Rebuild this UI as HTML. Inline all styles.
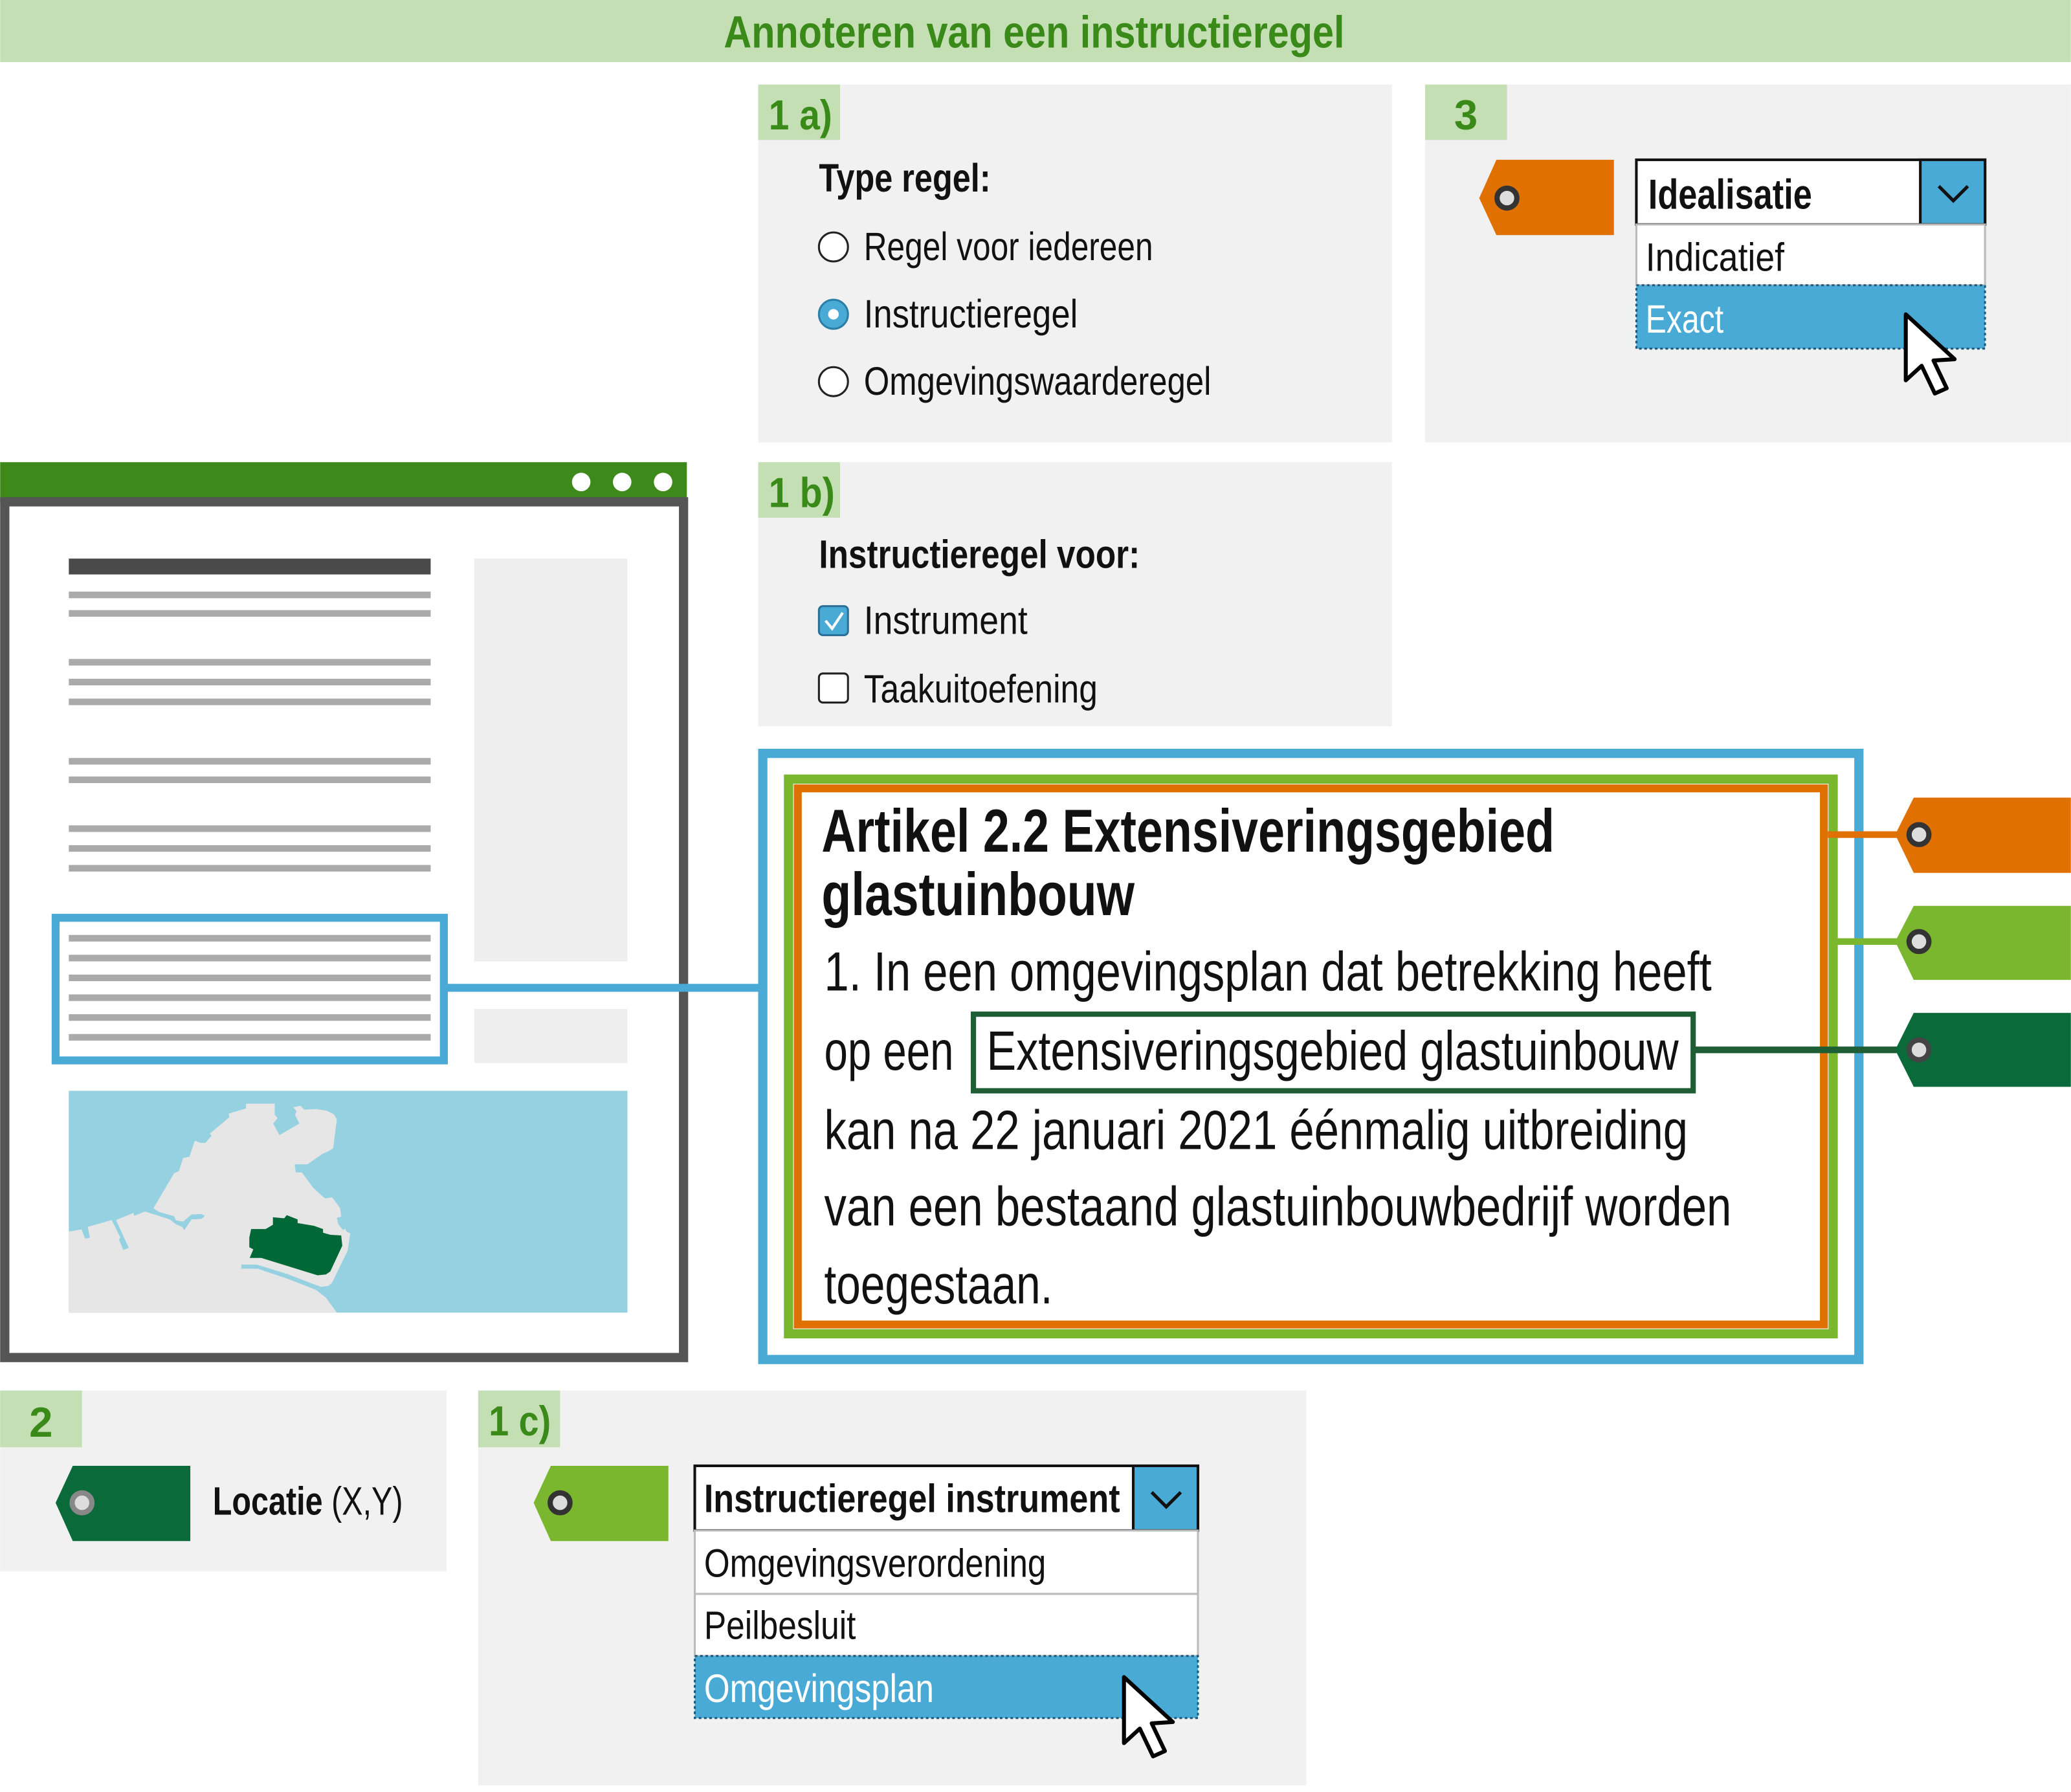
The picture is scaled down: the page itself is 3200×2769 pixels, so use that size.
<!DOCTYPE html>
<html><head><meta charset="utf-8"><style>
html,body{margin:0;padding:0;background:#fff;width:3200px;height:2769px;overflow:hidden}
svg{display:block}
text{font-family:"Liberation Sans",sans-serif}
</style></head><body>
<svg width="3200" height="2769" viewBox="0 0 1568 1357" xmlns="http://www.w3.org/2000/svg">
<defs>
<g id="cur"><path d="M0,0 L0,50 L12,39 L22,60 L31,56 L21,35 L37,34 Z" fill="#fff" stroke="#000" stroke-width="3" stroke-linejoin="round"/></g>
</defs>
<rect x="0" y="0" width="1568" height="47" fill="#c5dfb5"/>
<text x="548" y="36" font-size="34" font-weight="bold" fill="#3a8a1a" textLength="470" lengthAdjust="spacingAndGlyphs">Annoteren van een instructieregel</text>

<!-- 1a -->
<rect x="574" y="64" width="480" height="271" fill="#f1f1f1"/>
<rect x="574" y="64" width="62" height="42" fill="#c5dfb5"/>
<text x="582" y="98" font-size="32" font-weight="bold" fill="#3a8a1a" textLength="48" lengthAdjust="spacingAndGlyphs">1 a)</text>
<text x="620" y="145" font-size="30" font-weight="bold" fill="#111" textLength="130" lengthAdjust="spacingAndGlyphs">Type regel:</text>
<circle cx="631" cy="187" r="11" fill="#fff" stroke="#222" stroke-width="1.5"/>
<text x="654" y="197" font-size="30" fill="#111" textLength="219" lengthAdjust="spacingAndGlyphs">Regel voor iedereen</text>
<circle cx="631" cy="238" r="11" fill="#4aaad6" stroke="#2a7fa8" stroke-width="1.5"/>
<circle cx="631" cy="238" r="4" fill="#fff"/>
<text x="654" y="248" font-size="30" fill="#111" textLength="162" lengthAdjust="spacingAndGlyphs">Instructieregel</text>
<circle cx="631" cy="289" r="11" fill="#fff" stroke="#222" stroke-width="1.5"/>
<text x="654" y="299" font-size="30" fill="#111" textLength="263" lengthAdjust="spacingAndGlyphs">Omgevingswaarderegel</text>

<!-- 3 -->
<rect x="1079" y="64" width="489" height="271" fill="#f1f1f1"/>
<rect x="1079" y="64" width="62" height="42" fill="#c5dfb5"/>
<text x="1101" y="98" font-size="32" font-weight="bold" fill="#3a8a1a">3</text>
<polygon points="1133,121 1222,121 1222,178 1133,178 1120,150" fill="#e07000"/>
<circle cx="1141" cy="150" r="7.5" fill="#ddd" stroke="#333" stroke-width="4"/>
<rect x="1239" y="121" width="264" height="49" fill="#fff" stroke="#111" stroke-width="2"/>
<rect x="1454" y="121" width="49" height="49" fill="#4aaad6" stroke="#111" stroke-width="2"/>
<path d="M1468,141 L1479,152 L1490,141" fill="none" stroke="#111" stroke-width="2.5"/>
<text x="1248" y="158" font-size="32" font-weight="bold" fill="#111" textLength="124" lengthAdjust="spacingAndGlyphs">Idealisatie</text>
<rect x="1239" y="170" width="264" height="46" fill="#fff" stroke="#bbb" stroke-width="1.5"/>
<text x="1246" y="205" font-size="30" fill="#111" textLength="105" lengthAdjust="spacingAndGlyphs">Indicatief</text>
<rect x="1239" y="216" width="264" height="48" fill="#4aaad6" stroke="#1a5a80" stroke-width="1.5" stroke-dasharray="2,2"/>
<text x="1246" y="252" font-size="30" fill="#fff" textLength="59" lengthAdjust="spacingAndGlyphs">Exact</text>
<use href="#cur" x="1443" y="238"/>

<!-- Browser -->
<rect x="0" y="350" width="520" height="31" fill="#3d8a1a"/>
<circle cx="440" cy="365" r="7" fill="#fff"/><circle cx="471" cy="365" r="7" fill="#fff"/><circle cx="502" cy="365" r="7" fill="#fff"/>
<rect x="3.5" y="380" width="514" height="648" fill="#fff" stroke="#555" stroke-width="7"/>
<rect x="52" y="423" width="274" height="12" fill="#4a4a4a"/>
<g fill="#aaa">
<rect x="52" y="448" width="274" height="5"/><rect x="52" y="462" width="274" height="5"/>
<rect x="52" y="499" width="274" height="5"/><rect x="52" y="514" width="274" height="5"/><rect x="52" y="529" width="274" height="5"/>
<rect x="52" y="574" width="274" height="5"/><rect x="52" y="588" width="274" height="5"/>
<rect x="52" y="625" width="274" height="5"/><rect x="52" y="640" width="274" height="5"/><rect x="52" y="655" width="274" height="5"/>
<rect x="52" y="708" width="274" height="5"/><rect x="52" y="723" width="274" height="5"/><rect x="52" y="738" width="274" height="5"/>
<rect x="52" y="753" width="274" height="5"/><rect x="52" y="768" width="274" height="5"/><rect x="52" y="783" width="274" height="5"/>
</g>
<rect x="359" y="423" width="116" height="305" fill="#eee"/>
<rect x="359" y="764" width="116" height="41" fill="#eee"/>
<rect x="42" y="695" width="294" height="108" fill="none" stroke="#4aaad6" stroke-width="6"/>
<line x1="336" y1="748" x2="577" y2="748" stroke="#4aaad6" stroke-width="6"/>
<rect x="52" y="826" width="423" height="168" fill="#96d1e2"/>
<g transform="matrix(0.275 0 0 0.1623 49.25 823.57)">
<polygon fill="#e6e6e6" points="10,1050 10,672 45,662 55,705 68,700 62,650 128,618 152,700 148,708 160,758 175,748 140,618 188,585 190,598 220,578 288,615 305,638 322,650 328,665 348,615 375,613 385,598 375,590 348,592 325,625 305,620 300,600 258,580 243,563 300,400 313,390 325,328 342,323 357,248 373,258 386,258 403,225 398,215 452,138 450,122 498,97 498,75 577,75 577,127 585,142 573,168 590,222 645,168 633,127 637,110 628,92 648,85 658,103 690,100 720,108 740,125 748,148 738,283 727,295 708,310 667,358 632,358 635,396 652,396 683,468 715,517 735,512 757,562 760,603 748,607 752,637 765,665 770,658 775,672 785,680 778,760 735,910 725,925 705,930 690,943 718,980 748,1050"/>
<polygon fill="#96d1e2" points="485,826 528,826 612,870 680,915 705,930 690,943 612,892 530,845 485,845"/>
<polygon fill="#006837" points="512,660 552,660 572,640 572,605 603,610 610,595 640,615 640,632 685,645 710,660 710,677 730,687 760,690 763,738 730,858 718,872 695,876 540,795 508,795 518,755 507,745 507,700"/>
</g>

<!-- 1b -->
<rect x="574" y="350" width="480" height="200" fill="#f1f1f1"/>
<rect x="574" y="350" width="62" height="42" fill="#c5dfb5"/>
<text x="582" y="384" font-size="32" font-weight="bold" fill="#3a8a1a" textLength="50" lengthAdjust="spacingAndGlyphs">1 b)</text>
<text x="620" y="430" font-size="30" font-weight="bold" fill="#111" textLength="243" lengthAdjust="spacingAndGlyphs">Instructieregel voor:</text>
<rect x="620" y="459" width="22" height="22" rx="3" fill="#4aaad6" stroke="#2a6f98" stroke-width="1.5"/>
<path d="M625,470 L630,476 L638,464" fill="none" stroke="#fff" stroke-width="2"/>
<text x="654" y="480" font-size="30" fill="#111" textLength="124" lengthAdjust="spacingAndGlyphs">Instrument</text>
<rect x="620" y="510" width="22" height="22" rx="3" fill="#fff" stroke="#222" stroke-width="1.5"/>
<text x="654" y="532" font-size="30" fill="#111" textLength="177" lengthAdjust="spacingAndGlyphs">Taakuitoefening</text>

<!-- Big article -->
<rect x="577.5" y="570.5" width="830" height="459" fill="#fff" stroke="#4aaad6" stroke-width="7"/>
<rect x="597" y="590" width="791" height="420" fill="none" stroke="#7ab62e" stroke-width="7"/>
<rect x="604" y="597" width="777" height="406" fill="none" stroke="#e07000" stroke-width="6"/>
<text x="622" y="645" font-size="46" font-weight="bold" fill="#111" textLength="555" lengthAdjust="spacingAndGlyphs">Artikel 2.2 Extensiveringsgebied</text>
<text x="622" y="693" font-size="46" font-weight="bold" fill="#111" textLength="237" lengthAdjust="spacingAndGlyphs">glastuinbouw</text>
<text x="624" y="750" font-size="42" fill="#111" textLength="672" lengthAdjust="spacingAndGlyphs">1. In een omgevingsplan dat betrekking heeft</text>
<text x="624" y="810" font-size="42" fill="#111" textLength="98" lengthAdjust="spacingAndGlyphs">op een</text>
<rect x="737" y="768" width="545" height="58" fill="none" stroke="#1f5e35" stroke-width="4"/>
<text x="747" y="810" font-size="42" fill="#111" textLength="524" lengthAdjust="spacingAndGlyphs">Extensiveringsgebied glastuinbouw</text>
<text x="624" y="870" font-size="42" fill="#111" textLength="654" lengthAdjust="spacingAndGlyphs">kan na 22 januari 2021 éénmalig uitbreiding</text>
<text x="624" y="928" font-size="42" fill="#111" textLength="687" lengthAdjust="spacingAndGlyphs">van een bestaand glastuinbouwbedrijf worden</text>
<text x="624" y="987" font-size="42" fill="#111" textLength="173" lengthAdjust="spacingAndGlyphs">toegestaan.</text>

<!-- right tags -->
<line x1="1384" y1="632" x2="1437" y2="632" stroke="#e07000" stroke-width="5"/>
<polygon points="1449,604 1568,604 1568,661 1449,661 1435,632" fill="#e07000"/>
<circle cx="1453" cy="632" r="7.5" fill="#ddd" stroke="#333" stroke-width="4"/>
<line x1="1391" y1="713" x2="1437" y2="713" stroke="#7ab62e" stroke-width="5"/>
<polygon points="1449,686 1568,686 1568,742 1449,742 1435,713" fill="#7ab62e"/>
<circle cx="1453" cy="713" r="7.5" fill="#ddd" stroke="#333" stroke-width="4"/>
<line x1="1282" y1="795" x2="1437" y2="795" stroke="#1f5e35" stroke-width="5"/>
<polygon points="1449,767 1568,767 1568,823 1449,823 1435,795" fill="#0b6a3a"/>
<circle cx="1453" cy="795" r="7.5" fill="#ddd" stroke="#444" stroke-width="4"/>

<!-- 2 -->
<rect x="0" y="1053" width="338" height="137" fill="#f1f1f1"/>
<rect x="0" y="1053" width="62" height="43" fill="#c5dfb5"/>
<text x="22" y="1088" font-size="32" font-weight="bold" fill="#3a8a1a">2</text>
<polygon points="55,1110 144,1110 144,1167 55,1167 42,1138" fill="#0b6a3a"/>
<circle cx="62" cy="1138" r="7.5" fill="#ddd" stroke="#888" stroke-width="4"/>
<text x="161" y="1147" font-size="30" fill="#111" textLength="144" lengthAdjust="spacingAndGlyphs"><tspan font-weight="bold">Locatie</tspan> (X,Y)</text>

<!-- 1c -->
<rect x="362" y="1053" width="627" height="299" fill="#f1f1f1"/>
<rect x="362" y="1053" width="62" height="43" fill="#c5dfb5"/>
<text x="370" y="1087" font-size="32" font-weight="bold" fill="#3a8a1a" textLength="47" lengthAdjust="spacingAndGlyphs">1 c)</text>
<polygon points="417,1110 506,1110 506,1167 417,1167 404,1138" fill="#7ab62e"/>
<circle cx="424" cy="1138" r="7.5" fill="#ddd" stroke="#333" stroke-width="4"/>
<rect x="526" y="1110" width="381" height="49" fill="#fff" stroke="#111" stroke-width="2"/>
<rect x="858" y="1110" width="49" height="49" fill="#4aaad6" stroke="#111" stroke-width="2"/>
<path d="M872,1130 L883,1141 L894,1130" fill="none" stroke="#111" stroke-width="2.5"/>
<text x="533" y="1145" font-size="30" font-weight="bold" fill="#111" textLength="315" lengthAdjust="spacingAndGlyphs">Instructieregel instrument</text>
<rect x="526" y="1159" width="381" height="48" fill="#fff" stroke="#bbb" stroke-width="1.5"/>
<text x="533" y="1194" font-size="30" fill="#111" textLength="259" lengthAdjust="spacingAndGlyphs">Omgevingsverordening</text>
<rect x="526" y="1207" width="381" height="47" fill="#fff" stroke="#bbb" stroke-width="1.5"/>
<text x="533" y="1241" font-size="30" fill="#111" textLength="115" lengthAdjust="spacingAndGlyphs">Peilbesluit</text>
<rect x="526" y="1254" width="381" height="47" fill="#4aaad6" stroke="#1a5a80" stroke-width="1.5" stroke-dasharray="2,2"/>
<text x="533" y="1289" font-size="30" fill="#fff" textLength="174" lengthAdjust="spacingAndGlyphs">Omgevingsplan</text>
<use href="#cur" x="851" y="1270"/>
</svg>
</body></html>
